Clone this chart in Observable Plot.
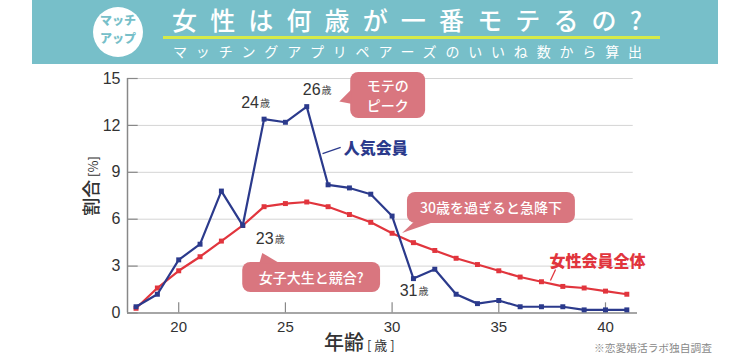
<!DOCTYPE html>
<html>
<head>
<meta charset="utf-8">
<script src="https://cdn.jsdelivr.net/npm/d3@7"></script>
<script src="https://cdn.jsdelivr.net/npm/@observablehq/plot@0.6"></script>
<style>
  html, body { margin: 0; padding: 0; background: #fff; }
  #wrap { position: relative; width: 743px; height: 363px; overflow: hidden;
          font-family: "Liberation Sans", "Noto Sans CJK JP", sans-serif; }
  #header { position: absolute; left: 0; top: 0; }
  #chart { position: absolute; left: 0; top: 64px; }
  .abs { position: absolute; white-space: nowrap; color: #333; }
</style>
</head>
<body>
<div id="wrap">
  <svg id="header" width="743" height="64">
    <rect x="32" y="0" width="686" height="64" fill="#77bfc9"></rect>
    <circle cx="118" cy="32" r="25" fill="#ffffff"></circle>
    <text x="118" y="25" text-anchor="middle" font-family="Noto Sans CJK JP" font-weight="900" font-size="12" fill="#77bfc9">マッチ</text>
    <text x="118" y="43" text-anchor="middle" font-family="Noto Sans CJK JP" font-weight="900" font-size="12" fill="#77bfc9">アップ</text>
    <line x1="163" x2="660" y1="37.5" y2="37.5" stroke="#d6ea48" stroke-width="3"></line>
    <text x="172" y="30" font-family="Noto Sans CJK JP" font-weight="500" font-size="25" fill="#ffffff" textLength="470" lengthAdjust="spacing">女性は何歳が一番モテるの?</text>
    <text x="173" y="57" font-family="Noto Sans CJK JP" font-weight="400" font-size="14" fill="#ffffff" textLength="469" lengthAdjust="spacing">マッチングアプリペアーズのいいね数から算出</text>
  </svg>
  <div id="chart"></div>
  <div class="abs" style="left:60px; top:176px; width:60px; text-align:center; transform:rotate(-90deg); transform-origin:30px 10px; font-family:'Noto Sans CJK JP'; line-height:20px;">
    <span style="font-size:18px; font-weight:500;">割合</span><span style="font-size:13px;"> [%]</span>
  </div>
  <div class="abs" style="left:324px; top:330px; font-family:'Noto Sans CJK JP'; line-height:24px;">
    <span style="font-size:20px; font-weight:500;">年齢</span><span style="font-size:13px;"> [ 歳 ]</span>
  </div>
  <svg class="abs" style="left:0; top:0;" width="743" height="363">
    <text x="594" y="352" font-family="Noto Sans CJK JP" font-size="10" fill="#888" textLength="118" lengthAdjust="spacingAndGlyphs">※恋愛婚活ラボ独自調査</text>
  </svg>
</div>
<script>
// ---- data ----
const ages = [18,19,20,21,22,23,24,25,26,27,28,29,30,31,32,33,34,35,36,37,38,39,40,41];
const popularMembers = [0.4,1.2,3.4,4.4,7.8,5.6,12.4,12.2,13.2,8.2,8.0,7.6,6.2,2.2,2.8,1.2,0.6,0.8,0.4,0.4,0.4,0.2,0.2,0.2];
const allFemaleMembers = [0.3,1.6,2.7,3.6,4.6,5.6,6.8,7.0,7.1,6.8,6.3,5.8,5.1,4.5,4.0,3.5,3.1,2.7,2.3,2.0,1.7,1.6,1.4,1.2];
const xTicks = [20,25,30,35,40];
const yTicks = [0,3,6,9,12,15];

// annotation texts (anchored in data coordinates)
const ageLabels = [
  {x: 23.76, y: 13.47, num: "24"},
  {x: 26.65, y: 14.30, num: "26"},
  {x: 24.45, y: 4.77, num: "23"},
  {x: 31.19, y: 1.44, num: "31"}
];
const seriesLabels = [
  {x: 29.23, y: 10.52, text: "人気会員", color: "#2b3a8c", lx1: 26.74, ly1: 10.2, lx2: 27.59, ly2: 10.59},
  {x: 39.63, y: 3.29, text: "女性会員全体", color: "#e1353d", lx1: 37.42, ly1: 2.08, lx2: 37.66, ly2: 2.78}
];
const callouts = [
  {lines: ["モテの", "ピーク"], x1: 28.06, x2: 31.57, y1: 12.44, y2: 15.39,
   tail: [[28.10, 14.25], [27.55, 13.49], [28.10, 13.35]]},
  {lines: ["30歳を過ぎると急降下"], x1: 30.72, x2: 38.59, y1: 5.73, y2: 7.71,
   tail: [[31.05, 5.80], [30.49, 5.09], [32.0, 5.80]]},
  {lines: ["女子大生と競合?"], x1: 23.0, x2: 29.46, y1: 1.31, y2: 3.23,
   tail: [[23.80, 3.15], [23.94, 3.81], [24.75, 3.15]]}
];

const rows = ages.map((a, i) => ({age: a, popular: popularMembers[i], all: allFemaleMembers[i]}));

const BLUE = "#2b3a8c", RED = "#e1353d", PINK = "#d9767f";
const JP = "Noto Sans CJK JP";

const calloutMark = (index, scales) => {
  const sx = scales.x, sy = scales.y;
  const g = d3.create("svg:g");
  for (const c of callouts) {
    const x1 = sx(c.x1), x2 = sx(c.x2), yTop = sy(c.y2), yBot = sy(c.y1);
    g.append("rect").attr("x", x1).attr("y", yTop).attr("width", x2 - x1).attr("height", yBot - yTop)
      .attr("rx", 8).attr("fill", PINK);
    g.append("polygon").attr("points", c.tail.map(([a, b]) => `${sx(a)},${sy(b)}`).join(" ")).attr("fill", PINK);
    const cx = (x1 + x2) / 2, cy = (yTop + yBot) / 2;
    const lh = 20.5;
    c.lines.forEach((t, i) => {
      g.append("text").attr("x", cx).attr("y", cy + (i - (c.lines.length - 1) / 2) * lh)
        .attr("text-anchor", "middle").attr("dominant-baseline", "central")
        .attr("fill", "#fff").attr("font-family", JP).attr("font-weight", 500)
        .attr("font-size", 14).text(t);
    });
  }
  return g.node();
};

const chart = Plot.plot({
  width: 743,
  height: 299,
  marginLeft: 127,
  marginRight: 106,
  marginTop: 14,
  marginBottom: 50.5,
  style: {fontFamily: "'Liberation Sans', 'Noto Sans CJK JP', sans-serif", background: "transparent", color: "#333"},
  x: {domain: [17.6, 41.5]},
  y: {domain: [0, 15]},
  marks: [
    Plot.ruleY(yTicks.filter(d => d > 0), {x1: 17.6, x2: 41.3, stroke: "#d4d4d4", strokeWidth: 1}),
    Plot.ruleY(yTicks, {x1: 17.6, x2: 18.1, stroke: "#888", strokeWidth: 1.2}),
    Plot.ruleX(xTicks, {y1: 0, y2: 0.65, stroke: "#888", strokeWidth: 1.2}),
    Plot.ruleY([0], {x1: 17.6, x2: 41.5, stroke: "#888", strokeWidth: 1.5}),
    Plot.ruleX([17.6], {y1: 0, y2: 15, stroke: "#888", strokeWidth: 1.5}),
    Plot.axisY(yTicks, {tickSize: 0, tickPadding: 7, fontSize: 16, label: null, fill: "#333"}),
    Plot.axisX(xTicks, {tickSize: 0, tickPadding: 8, fontSize: 15, label: null, fill: "#333"}),
    calloutMark,
    Plot.line(rows, {x: "age", y: "all", stroke: RED, strokeWidth: 2.2}),
    Plot.dot(rows, {x: "age", y: "all", symbol: "square", r: 2.8, fill: RED}),
    Plot.line(rows, {x: "age", y: "popular", stroke: BLUE, strokeWidth: 2.2}),
    Plot.dot(rows, {x: "age", y: "popular", symbol: "square", r: 2.8, fill: BLUE}),
    Plot.text(ageLabels, {x: "x", y: "y", text: "num", textAnchor: "end", fontSize: 16, fill: "#333"}),
    Plot.text(ageLabels, {x: "x", y: "y", text: () => "歳", textAnchor: "start", dx: 1, dy: 1, fontSize: 10, fill: "#444", fontFamily: JP}),
    Plot.link(seriesLabels, {x1: "lx1", y1: "ly1", x2: "lx2", y2: "ly2", stroke: "color", strokeWidth: 1.3}),
    Plot.text(seriesLabels, {x: "x", y: "y", text: "text", fill: "color", fontSize: 16, fontWeight: 900, fontFamily: JP})
  ]
});
document.getElementById("chart").appendChild(chart);
</script>
</body>
</html>
